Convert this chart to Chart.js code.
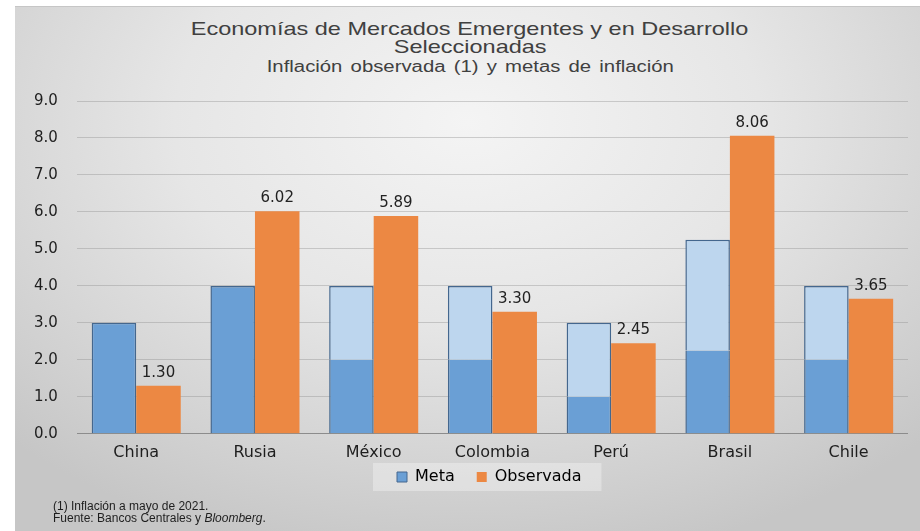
<!DOCTYPE html>
<html>
<head>
<meta charset="utf-8">
<script src="https://cdn.jsdelivr.net/npm/chart.js@4/dist/chart.umd.min.js"></script>
<style>
  html, body { margin: 0; padding: 0; background: #ffffff; }
  #wrap { position: relative; width: 920px; height: 531px; overflow: hidden; background: #ffffff; }
  #panel {
    position: absolute; left: 15px; top: 6px; width: 905px; height: 525px;
    border-top: 1px solid #c6c6c6;
    background: radial-gradient(ellipse 72% 85% at 50% 22%, #f4f4f4 0%, #e6e6e6 45%, #cfcfcf 85%, #c6c6c6 100%);
  }
  #c { position: absolute; left: 0; top: 0; }
  .ttl { position: absolute; left: 20px; width: 900px; text-align: center; color: #404040;
         font-family: "Liberation Sans", Arial, sans-serif; white-space: nowrap; }
  .ttl span { display: inline-block; transform: scaleX(1.27); transform-origin: center; }
  #t1 { top: 19px; font-size: 18.5px; line-height: 20px; }
  #t2 { top: 37px; font-size: 18.5px; line-height: 20px; }
  #t3 { top: 58px; font-size: 16px; line-height: 18px; word-spacing: 2px; }
  #note { position: absolute; left: 53px; top: 500px; font-family: "Liberation Sans", Arial, sans-serif;
          font-size: 12px; line-height: 12px; color: #1e1e1e; }
</style>
</head>
<body>
<div id="wrap">
  <div id="panel"></div>
  <div class="ttl" id="t1"><span>Economías de Mercados Emergentes y en Desarrollo</span></div>
  <div class="ttl" id="t2"><span>Seleccionadas</span></div>
  <div class="ttl" id="t3"><span>Inflación observada (1) y metas de inflación</span></div>
  <canvas id="c" width="920" height="531"></canvas>
  <div id="note">(1) Inflación a mayo de 2021.<br>Fuente: Bancos Centrales y <i>Bloomberg</i>.</div>
</div>
<script>
// ---- data ----
const categories = ['China', 'Rusia', 'México', 'Colombia', 'Perú', 'Brasil', 'Chile'];
const metaLow    = [3.00, 4.00, 2.00, 2.00, 1.00, 2.25, 2.00];   // lower end of target (or point target)
const metaHigh   = [3.00, 4.00, 4.00, 4.00, 3.00, 5.25, 4.00];   // upper end of target range
const observada  = [1.30, 6.02, 5.89, 3.30, 2.45, 8.06, 3.65];
const yTicks     = [0, 1, 2, 3, 4, 5, 6, 7, 8, 9];
const seriesNames = ['Meta', 'Observada'];

// upper segment of the target range (null where target is a single point)
const metaRange = metaHigh.map((h, i) => (h > metaLow[i] ? h - metaLow[i] : null));

// ---- styles ----
const DARK_BLUE = '#6a9fd5';
const LIGHT_BLUE = '#bdd6ee';
const EDGE = '#44678e';
const ORANGE = '#ec8843';
const BW = 1.5;
const FONT = '"DejaVu Sans", "Liberation Sans", Arial, sans-serif';
const LEGEND_X = 397;       // left of first legend swatch
const LEGEND_CY = 477;      // vertical centre of legend row

const valueLabels = {
  id: 'valueLabels',
  afterDatasetsDraw(chart) {
    const ctx = chart.ctx;
    const meta = chart.getDatasetMeta(2);
    ctx.save();
    ctx.font = '15px ' + FONT;
    ctx.fillStyle = '#222222';
    ctx.textAlign = 'center';
    ctx.textBaseline = 'alphabetic';
    meta.data.forEach((bar, i) => {
      ctx.fillText(observada[i].toFixed(2), bar.x, bar.y - 9);
    });
    ctx.restore();
  }
};

const legendPlace = {
  id: 'legendPlace',
  afterLayout(chart) {
    const lg = chart.legend;
    if (!lg) return;
    const pad = lg.options.labels.padding;
    const fs = lg.options.labels.font.size;
    const dy = (LEGEND_CY - fs / 2 - pad) - lg.top;
    const dx = (LEGEND_X - pad) - lg.left;
    lg.top += dy; lg.bottom += dy;
    lg.left += dx; lg.right += dx;
  }
};

const legendBox = {
  id: 'legendBox',
  beforeDraw(chart) {
    const lg = chart.legend;
    if (!lg || !lg.legendHitBoxes || !lg.legendHitBoxes.length) return;
    const boxes = lg.legendHitBoxes;
    let l = Infinity, r = -Infinity, t = Infinity, b = -Infinity;
    boxes.forEach(h => { l = Math.min(l, h.left); r = Math.max(r, h.left + h.width); t = Math.min(t, h.top); b = Math.max(b, h.top + h.height); });
    const ctx = chart.ctx;
    ctx.save();
    ctx.fillStyle = 'rgba(255,255,255,0.32)';
    ctx.fillRect(l - 24, t - 6, (r - l) + 44, (b - t) + 12);
    ctx.restore();
  }
};

new Chart(document.getElementById('c'), {
  type: 'bar',
  data: {
    labels: categories,
    datasets: [
      {
        label: seriesNames[0],
        data: metaLow,
        stack: 'meta',
        backgroundColor: DARK_BLUE,
        borderColor: EDGE,
        borderSkipped: false,
        borderWidth: (c) => ({ left: BW, right: BW, bottom: 0, top: (metaRange[c.dataIndex] == null ? BW : 0) })
      },
      {
        label: seriesNames[0] + ' rango',
        data: metaRange,
        stack: 'meta',
        backgroundColor: LIGHT_BLUE,
        borderColor: EDGE,
        borderSkipped: false,
        borderWidth: { left: BW, right: BW, top: BW, bottom: 0 }
      },
      {
        label: seriesNames[1],
        data: observada,
        stack: 'obs',
        backgroundColor: ORANGE,
        borderWidth: 0
      }
    ]
  },
  options: {
    responsive: false,
    animation: false,
    events: [],
    layout: { padding: { left: 15, right: 12, top: 101, bottom: 12 } },
    datasets: { bar: { categoryPercentage: 0.75, barPercentage: 1.0 } },
    scales: {
      x: {
        stacked: true,
        grid: { display: false, drawTicks: false },
        border: { display: false },
        ticks: { color: '#1e1e1e', font: { family: FONT, size: 16 }, padding: 9 }
      },
      y: {
        stacked: true,
        min: 0,
        max: 9,
        afterBuildTicks: (axis) => { axis.ticks = yTicks.map(v => ({ value: v })); },
        grid: {
          drawTicks: false,
          color: (c) => (c.tick && c.tick.value === 0 ? '#8c8c8c' : 'rgba(140,140,140,0.38)'),
          lineWidth: 1
        },
        border: { display: false },
        ticks: {
          color: '#1e1e1e',
          font: { family: FONT, size: 15 },
          padding: 19,
          callback: (v) => Number(v).toFixed(1)
        }
      }
    },
    plugins: {
      title: { display: false },
      tooltip: { enabled: false },
      legend: {
        display: true,
        position: 'bottom',
        align: 'start',
        labels: {
          font: { family: FONT, size: 16 },
          color: '#2a2a2a',
          boxWidth: 10,
          boxHeight: 10,
          padding: 22,
          generateLabels: (chart) => [
            { text: seriesNames[0], fillStyle: DARK_BLUE, strokeStyle: EDGE, lineWidth: 1, datasetIndex: 0, hidden: false },
            { text: seriesNames[1], fillStyle: ORANGE, strokeStyle: ORANGE, lineWidth: 0, datasetIndex: 2, hidden: false }
          ]
        }
      }
    }
  },
  plugins: [legendPlace, legendBox, valueLabels]
});
</script>
</body>
</html>
